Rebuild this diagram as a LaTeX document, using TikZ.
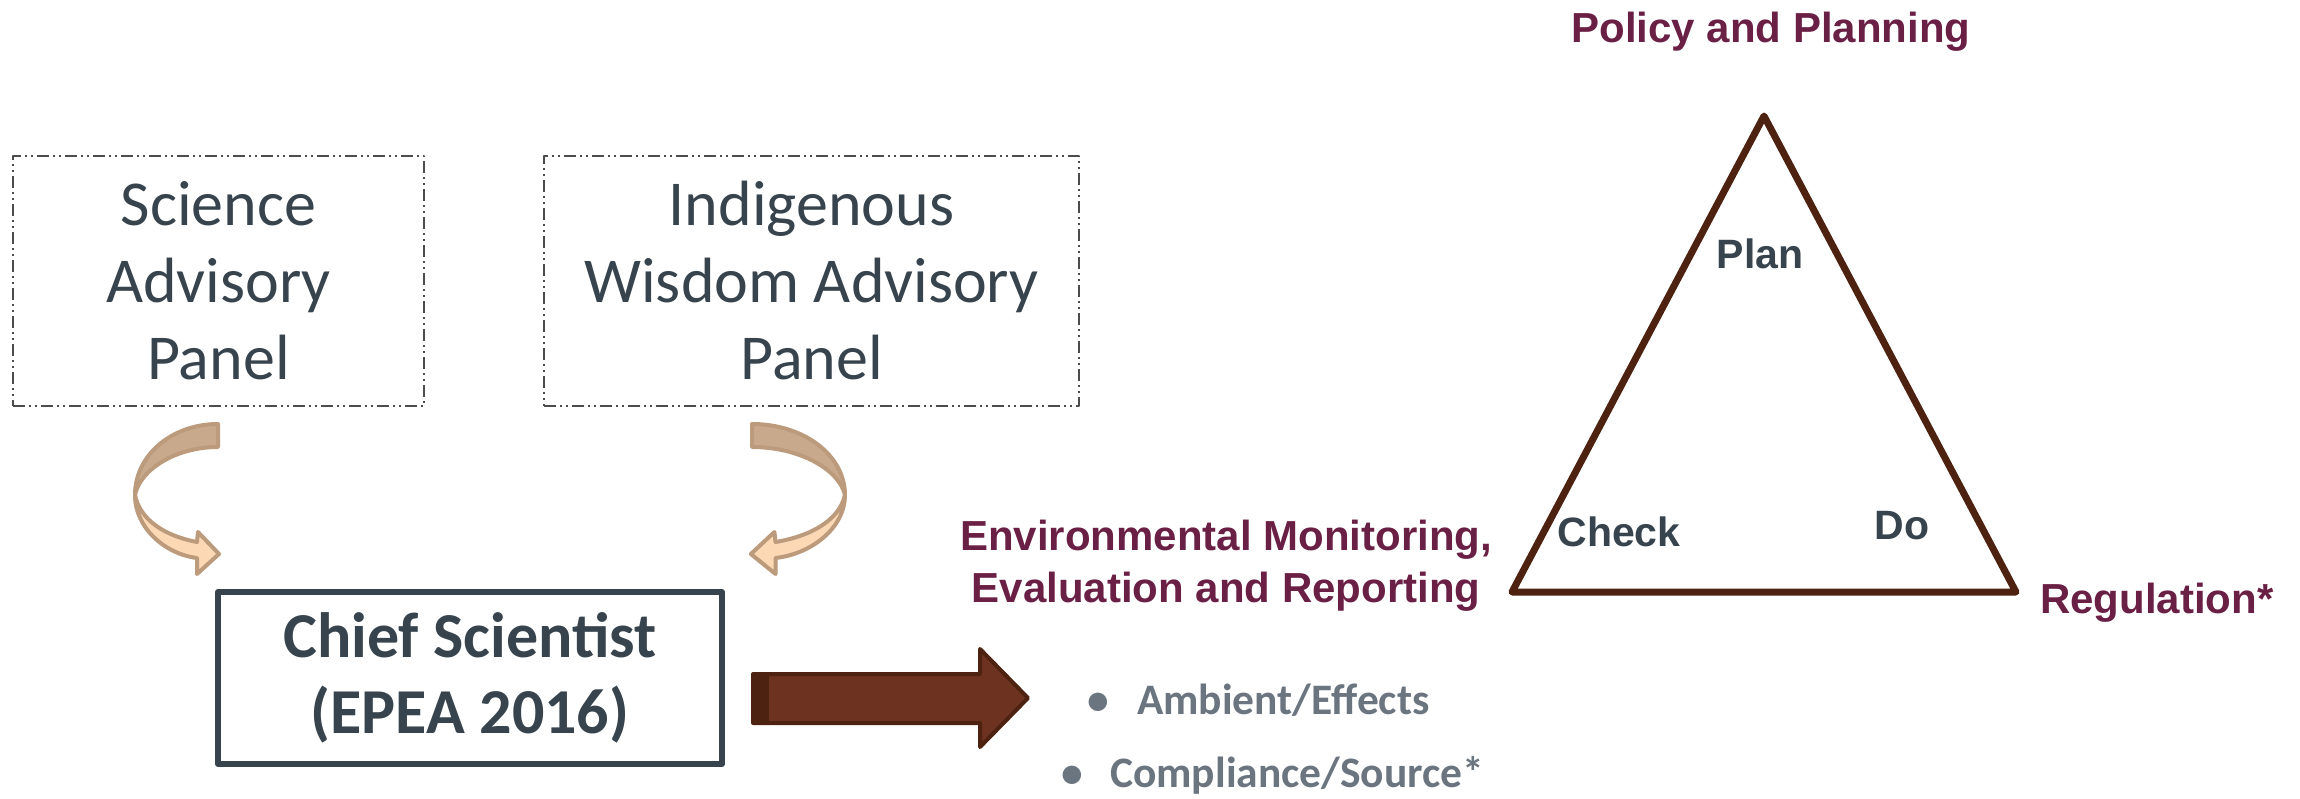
\documentclass[tikz,border=0pt]{standalone}
\usepackage{fontspec}
\setmainfont{Carlito}
\newfontfamily\arialfont{Liberation Sans}
\usetikzlibrary{positioning}
\definecolor{slate}{HTML}{37444E}
\definecolor{wine}{HTML}{6A1F45}
\definecolor{bulletgray}{HTML}{6B7580}
\definecolor{darkbrown}{HTML}{4E2210}
\definecolor{arrowbrown}{HTML}{6E3320}
\definecolor{tanback}{HTML}{C9A98C}
\definecolor{tanfront}{HTML}{FDD8B4}
\definecolor{tanline}{HTML}{BC9A7C}

\begin{document}
\begin{tikzpicture}[x=1pt, y=-1pt, line join=round, node distance=118pt,
    panel/.style={draw=black!70, line width=2pt,
        dash pattern=on 12pt off 4pt on 2pt off 4pt on 2pt off 4pt,
        text=slate, align=center, inner sep=0pt, minimum height=250pt,
        font=\fontsize{64}{77}\selectfont},
    chiefbox/.style={draw=slate, line width=6pt, text=slate, align=center,
        minimum width=504pt, minimum height=172pt,
        font=\bfseries\fontsize{64}{76}\selectfont},
    pdca/.style={text=slate, inner sep=0pt, anchor=base,
        font=\arialfont\bfseries\fontsize{41}{50}\selectfont},
    area/.style={text=wine, inner sep=0pt, align=center,
        font=\arialfont\bfseries\fontsize{42}{52}\selectfont},
    item/.style={text=bulletgray, inner sep=0pt, anchor=base west,
        font=\bfseries\fontsize{43.5}{50}\selectfont},
    backband/.style={fill=tanback, draw=tanline, line width=4pt},
    frontband/.style={fill=tanfront, draw=tanline, line width=4pt}]
    \useasboundingbox (0,0) rectangle (2300,798);

    % advisory panels
    \node[panel, minimum width=411pt] (sci) at (218.5,281) {Science\\Advisory\\Panel};
    \node[panel, minimum width=535pt, right=of sci] (ind) {Indigenous\\Wisdom Advisory\\Panel};

    % curved arrows into the chief scientist
    \foreach \sx/\sc in {218/1, 752/-1.12} {
        \begin{scope}[shift={(\sx,424)}, xscale=\sc]
            \filldraw[backband] (0,0) .. controls (-46,0) and (-83,31) .. (-83,71)
                .. controls (-78,46) and (-43,23) .. (0,23) -- cycle;
            \filldraw[frontband] (-83,71) .. controls (-83,104) and (-53,130) .. (-21,134)
                -- (-21,150) -- (1,130) -- (-20,108) -- (-21,118)
                .. controls (-53,112) and (-78,96) .. (-83,71) -- cycle;
        \end{scope}
    };

    \node[chiefbox] (chief) at (470,678) {Chief Scientist\\(EPEA 2016)};

    % block arrow
    \filldraw[fill=arrowbrown, draw=darkbrown, line width=4pt] (753,674) -- (980,674) -- (980,649)
        -- (1028,698) -- (980,747) -- (980,723) -- (753,723) -- cycle;
    \fill[darkbrown] (753,674) rectangle (769,723);

    \node[item] (ambient) at (1087,714) {\makebox[50pt][l]{•}Ambient/Effects};
    \node[item] (compliance) at (1061,787) {\makebox[49pt][l]{•}Compliance/Source*};

    % plan-do-check triangle
    \coordinate (apex) at (1764,116);
    \coordinate (left) at (1512,592);
    \coordinate (right) at (2016,592);
    \draw[darkbrown, line width=7pt] (apex) -- (right) -- (left) -- cycle;

    \node[pdca] (plan) at (1760,268) {Plan};
    \node[pdca] (check) at (1619,546) {Check};
    \node[pdca] (do) at (1902,539) {Do};

    \node[area, anchor=base] (policy) at (1771,42) {Policy and Planning};
    \node[area] (monitor) at (1226,565.5) {Environmental Monitoring,\\Evaluation and Reporting};
    \node[area, anchor=base west] (regulation) at (2040,613) {Regulation*};
\end{tikzpicture}
\end{document}
